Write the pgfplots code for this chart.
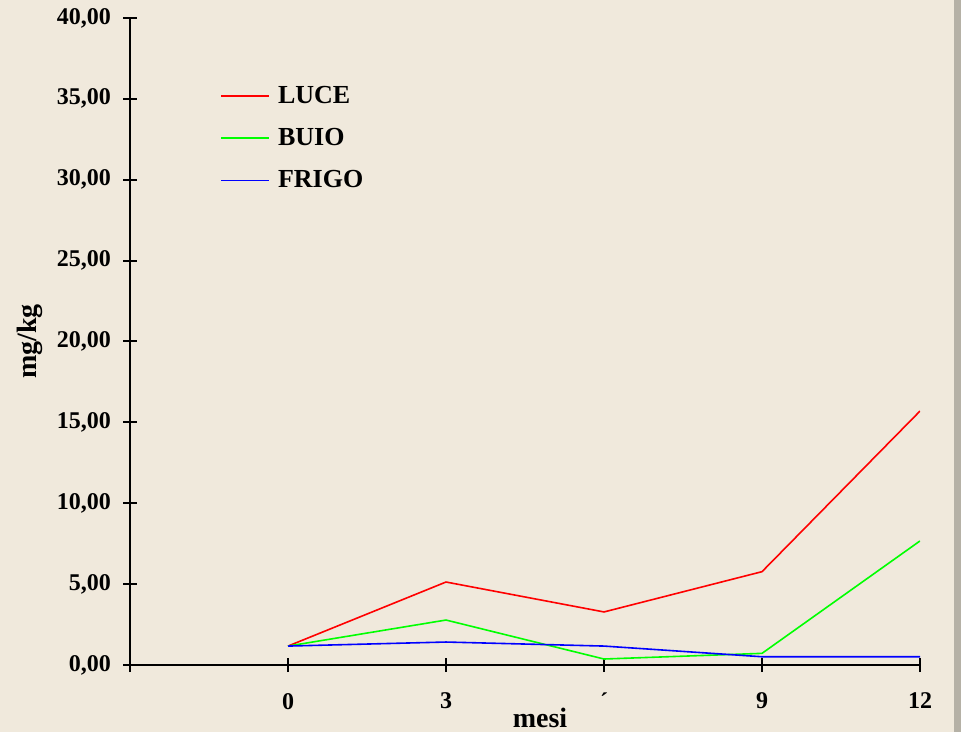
\documentclass[border=0pt]{standalone}
\usepackage{pgfplots}
\pgfplotsset{compat=1.18}
\usepackage{fontspec}
\setmainfont{Liberation Serif}
\definecolor{bgc}{HTML}{F0E9DC}
\definecolor{stripc}{HTML}{B5B1A6}
\definecolor{lucec}{HTML}{FF0000}
\definecolor{buioc}{HTML}{00FF00}
\definecolor{frigoc}{HTML}{0000FF}

\begin{document}
\begin{tikzpicture}
  % background, 1px = 0.5pt, axis origin at (130,665)px
  \fill[bgc] (-65pt,-33.5pt) rectangle (415.5pt,332.5pt);
  \fill[stripc] (412pt,-33.5pt) rectangle (415.5pt,332.5pt);
  \begin{axis}[
      scale only axis,
      width=395pt, height=323.5pt,
      xmin=-3, xmax=12,
      ymin=0, ymax=40,
      axis x line=bottom, axis y line=left,
      axis line style={-, line width=1pt},
      xtick={-3,0,3,6,9,12},
      xticklabels={,0,3,´,9,12},
      ytick={0,5,...,40},
      tick align=center,
      major tick length=7pt,
      tick style={line width=1pt, black},
      ticklabel style={font=\bfseries\fontsize{12}{14}\selectfont},
      xticklabel style={yshift=-7pt},
      yticklabel style={xshift=-2.5pt},
      /pgf/number format/assume math mode=true,
      yticklabel={\pgfmathprintnumber[fixed,fixed zerofill,precision=2,use comma]{\tick}},
      xlabel={mesi}, ylabel={mg/kg},
      label style={font=\bfseries\fontsize{14}{16}\selectfont},
      xlabel style={at={(axis description cs:0.519,-0.082)}, anchor=center},
      ylabel style={at={(axis description cs:-0.127,0.5)}, anchor=center},
      legend style={draw=none, fill=none, at={(axis description cs:0.114,0.902)}, anchor=north west,
        font=\bfseries\fontsize{13}{15}\selectfont, row sep=7pt, inner sep=0pt,
        nodes={inner xsep=4pt}},
      legend cell align=left,
      legend image code/.code={\draw[#1] (0pt,0pt) -- (24pt,0pt);},
    ]
    \addplot[color=lucec, line width=0.8pt] coordinates {(0,1.17) (3,5.13) (6,3.28) (9,5.77) (12,15.70)};
    \addplot[color=buioc, line width=0.8pt] coordinates {(0,1.17) (3,2.78) (6,0.37) (9,0.72) (12,7.67)};
    \addplot[color=frigoc, line width=0.8pt] coordinates {(0,1.17) (3,1.42) (6,1.17) (9,0.51) (12,0.51)};
    \legend{LUCE, BUIO, FRIGO}
  \end{axis}
  \pgfresetboundingbox
  \path[use as bounding box] (-65pt,-33.5pt) rectangle (415.5pt,332.5pt);
\end{tikzpicture}
\end{document}
